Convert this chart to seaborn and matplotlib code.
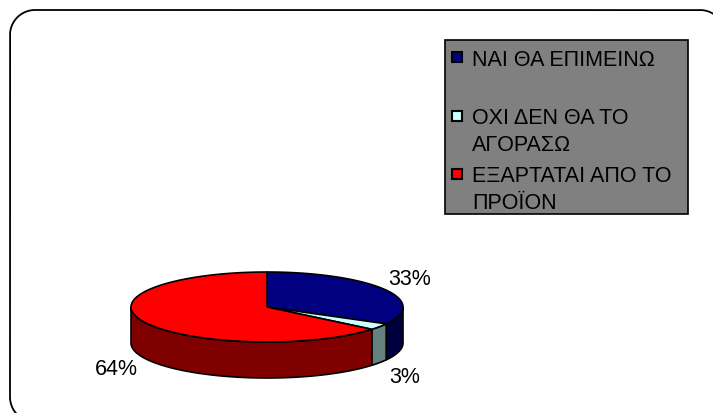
import textwrap
import numpy as np
import matplotlib
matplotlib.use("Agg")
import matplotlib.pyplot as plt
from matplotlib.patches import Polygon, Rectangle
import seaborn as sns

# --- Data ---
categories = ["ΝΑΙ ΘΑ ΕΠΙΜΕΙΝΩ", "ΟΧΙ ΔΕΝ ΘΑ ΤΟ ΑΓΟΡΑΣΩ", "ΕΞΑΡΤΑΤΑΙ ΑΠΟ ΤΟ ΠΡΟΪΟΝ"]
shares = [33, 3, 64]
top_colors = ["#000080", "#CCFFFF", "#FF0000"]
side_colors = ["#000040", "#668080", "#800000"]

sns.set_theme(style="white")
plt.rcParams["font.family"] = ["Liberation Sans", "DejaVu Sans"]

W, H = 713, 414
fig = plt.figure(figsize=(W / 100, H / 100), dpi=100)
ax = fig.add_axes([0, 0, 1, 1])
ax.set_xlim(0, W)
ax.set_ylim(H, 0)
ax.axis("off")


def rounded_rect(x0, y0, x1, y1, r, n=200):
    # open outline of a rounded rectangle, starting at the bottom-right corner
    pts = []
    corners = [(x1 - r, y1 - r, 0, 90), (x0 + r, y1 - r, 90, 180),
               (x0 + r, y0 + r, 180, 270), (x1 - r, y0 + r, 270, 360)]
    for ccx, ccy, t0, t1 in corners:
        t = np.radians(np.linspace(t0, t1, n))
        pts.append(np.column_stack([ccx + r * np.cos(t), ccy + r * np.sin(t)]))
    return np.vstack(pts)


# outer frame: only the part that lies on the canvas (it runs off right/bottom)
frame = rounded_rect(10, 11, 725, 423, 25)
inside = (frame[:, 0] <= W + 1) & (frame[:, 1] <= H + 1)
frame = frame[inside]
ax.plot(frame[:, 0], frame[:, 1], color="black", lw=1.3, clip_on=False)

# pseudo 3D pie geometry
cx, cy, rx, ry, depth = 267, 308, 136, 35, 36


def rim(a0, a1, n=80):
    # angles clockwise from 12 o'clock
    t = np.radians(np.linspace(a0, a1, n))
    return cx + rx * np.sin(t), cy - ry * np.cos(t)


fracs = np.array(shares) / sum(shares)
edges = np.concatenate([[0], np.cumsum(fracs) * 360])

# side walls (only the front half is visible)
for i in range(len(shares)):
    a0, a1 = max(edges[i], 90), min(edges[i + 1], 270)
    if a1 <= a0:
        continue
    x, y = rim(a0, a1)
    xs = np.concatenate([x, x[::-1]])
    ys = np.concatenate([y, y[::-1] + depth])
    ax.add_patch(Polygon(np.column_stack([xs, ys]), closed=True,
                         fc=side_colors[i], ec="black", lw=1.2, joinstyle="round"))

# top faces
for i in range(len(shares)):
    x, y = rim(edges[i], edges[i + 1])
    pts = np.column_stack([np.r_[cx, x], np.r_[cy, y]])
    ax.add_patch(Polygon(pts, closed=True, fc=top_colors[i], ec="black", lw=1.2,
                         joinstyle="round"))

# percentage labels
for i, v in enumerate(shares):
    m = np.radians((edges[i] + edges[i + 1]) / 2)
    lx = cx + 1.22 * rx * np.sin(m)
    ly = cy - 1.6 * ry * np.cos(m) + (depth + 2 if np.cos(m) < 0 else 0)
    ax.text(lx, ly, f"{v}%", fontsize=15.5, ha="center", va="center", color="black")

# legend box
ax.add_patch(Rectangle((445, 41), 243, 174, fc="#808080", ec="black", lw=1.2))
for i, lab in enumerate(categories):
    yc = 58 + i * 58.5
    ax.add_patch(Rectangle((452, yc - 5), 10, 10, fc=top_colors[i], ec="black", lw=1.5))
    ax.text(472, yc - 8.5, textwrap.fill(lab, 16), fontsize=15.5, ha="left", va="top",
            linespacing=1.35, color="black")

fig.savefig("out.png", dpi=100)
